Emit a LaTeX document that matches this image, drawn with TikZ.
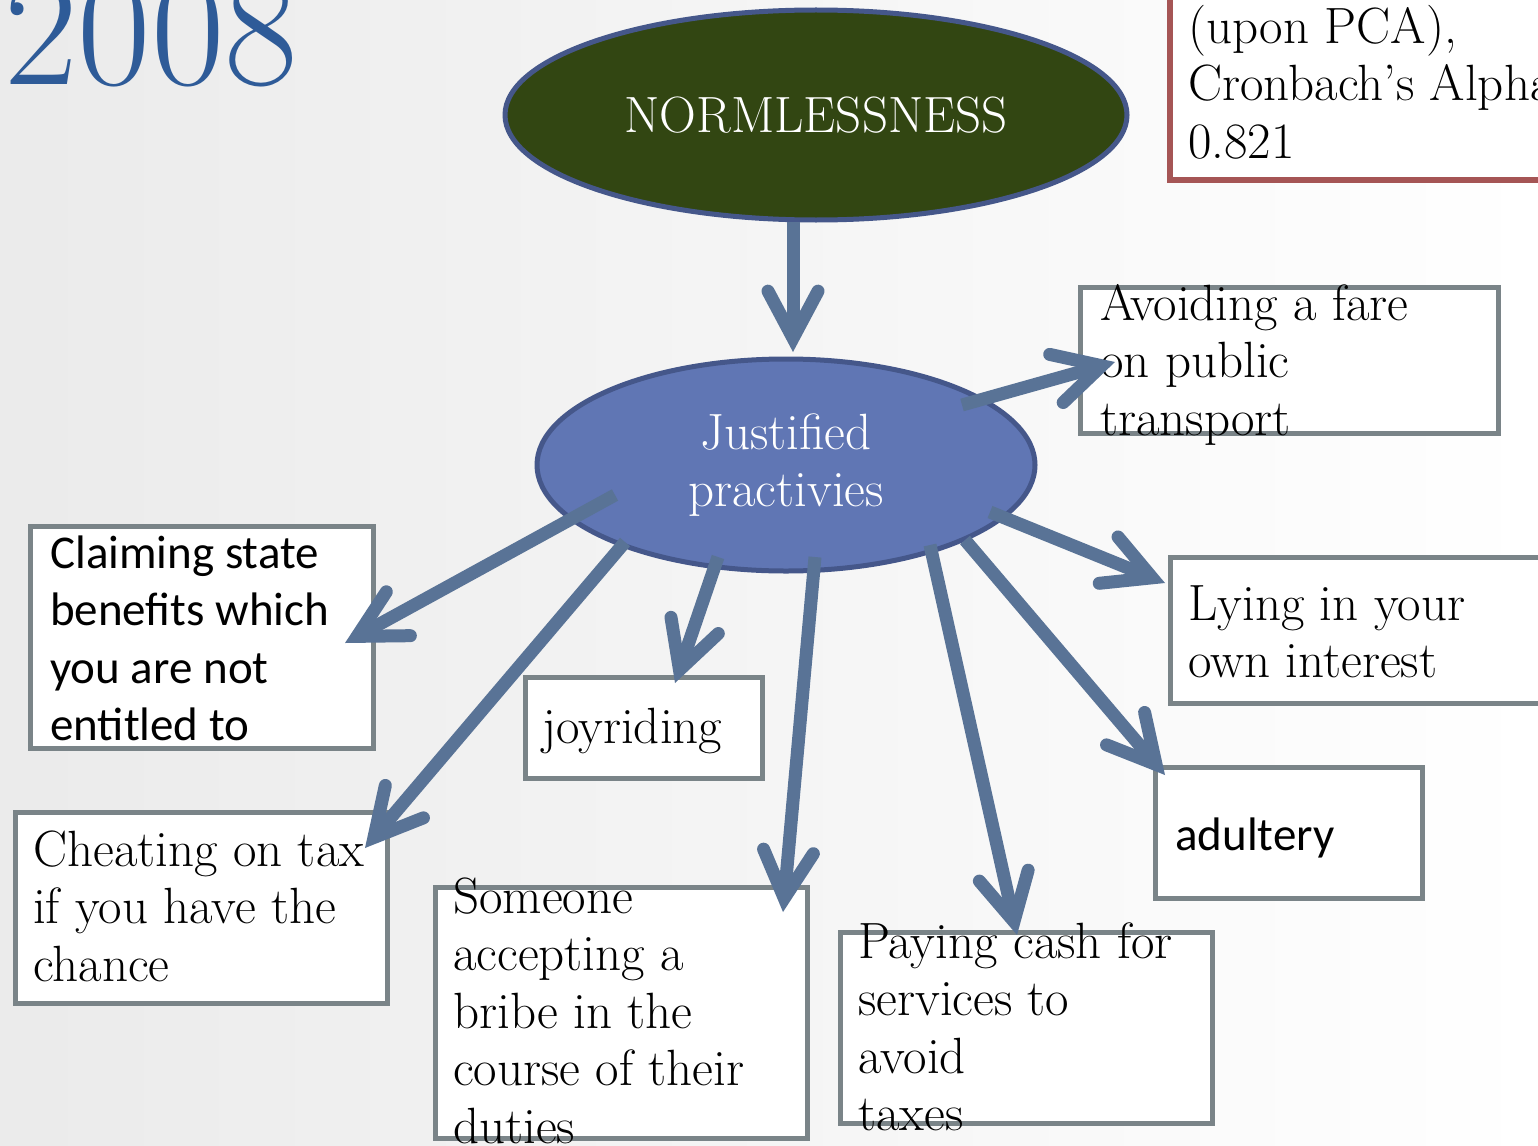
\documentclass[tikz,border=0pt]{standalone}
\usepackage{fontspec}
\newfontfamily\calfont{Carlito}
\usetikzlibrary{shapes.geometric,arrows.meta}

\definecolor{yearblue}{RGB}{46,91,152}
\definecolor{rimblue}{RGB}{69,87,138}
\definecolor{normgreen}{RGB}{50,70,18}
\definecolor{justblue}{RGB}{96,118,180}
\definecolor{arrowblue}{RGB}{89,115,150}
\definecolor{boxgray}{RGB}{122,132,136}
\definecolor{pcared}{RGB}{165,85,85}

\newcommand{\bigtext}{\fontsize{51}{57.5}\selectfont}
\newcommand{\bigsans}{\calfont\fontsize{47}{57.5}\selectfont}

\begin{document}
\begin{tikzpicture}[x=1pt,y=-1pt]
  \useasboundingbox (0,0) rectangle (1538,1145);
  \clip (0,0) rectangle (1538,1145);
  \shade[left color=black!8,right color=white] (0,0) rectangle (1538,1145);
  \node[anchor=base west,inner sep=0pt,text=yearblue,
    font=\fontsize{160}{160}\selectfont] (year) at (4,85) {2008};
  % boxes
  \begin{scope}[
    every node/.style={draw=boxgray,line width=5pt,fill=white,
      inner sep=0pt,outer sep=0pt,anchor=north west},
    ]
    \node[minimum width=420,minimum height=220,draw=pcared,line width=6pt]
      (pca) at (1170,-40) {};
    \node[minimum width=418,minimum height=146] (avoid) at (1080,287) {};
    \node[minimum width=343,minimum height=222] (claim) at (30,526) {};
    \node[minimum width=372,minimum height=191] (cheat) at (15,812) {};
    \node[minimum width=237,minimum height=101] (joy) at (525,677) {};
    \node[minimum width=372,minimum height=251] (bribe) at (435,887) {};
    \node[minimum width=372,minimum height=191] (cash) at (840,932) {};
    \node[minimum width=267,minimum height=131] (adult) at (1155,767) {};
    \node[minimum width=420,minimum height=146] (lying) at (1170,557) {};
  \end{scope}
  % box texts
  \begin{scope}[
    every node/.style={anchor=north west,inner sep=0pt,align=left,font=\bigtext},
    ]
    \node (pcatext) at ([shift={(18,42.75)}]pca.north west)
      {\strut(upon PCA),\\Cronbach’s Alpha\\0.821};
    \node (avoidtext) at ([shift={(20,-7.25)}]avoid.north west)
      {\strut Avoiding a fare\\on public\\transport};
    \node[font=\bigsans] (claimtext) at ([shift={(20,1.75)}]claim.north west)
      {\strut Claiming state\\benefits which\\you are not\\entitled to};
    \node (cheattext) at ([shift={(18,13.75)}]cheat.north west)
      {\strut Cheating on tax\\if you have the\\chance};
    \node (joytext) at ([shift={(17,25.75)}]joy.north west) {\strut joyriding};
    \node (bribetext) at ([shift={(18,-14.25)}]bribe.north west)
      {\strut Someone\\accepting a\\bribe in the\\course of their\\duties};
    \node (cashtext) at ([shift={(18,-14.25)}]cash.north west)
      {\strut Paying cash for\\services to\\avoid\\taxes};
    \node[font=\bigsans] (adulttext) at ([shift={(20,42.75)}]adult.north west)
      {\strut adultery};
    \node (lyingtext) at ([shift={(18,22.75)}]lying.north west)
      {\strut Lying in your\\own interest};
  \end{scope}
  % ellipses
  \begin{scope}[
    every node/.style={ellipse,draw=rimblue,line width=5pt,text=white,
      inner sep=0pt,outer sep=0pt,align=center,font=\bigtext},
    ]
    \node[fill=normgreen,minimum width=622,minimum height=210]
      (norm) at (816,115) {NORMLESSNESS};
    \node[fill=justblue,minimum width=498,minimum height=212]
      (just) at (786,465) {Justified\\practivies};
  \end{scope}
  % arrows
  \begin{scope}[
    every path/.style={draw=arrowblue,line width=13pt,
      -{Straight Barb[length=47pt,width=50pt,line cap=round]}},
    ]
    \path ([shift={(-23,2)}]norm.south) -- ([shift={(7,-7)}]just.north);
    \path ([shift={(176,-60)}]just.center) -- ([shift={(35,75)}]avoid.north west);
    \path ([shift={(-171,30)}]just.center) -- ([shift={(-28,117)}]claim.north east);
    \path ([shift={(-161,77)}]just.center) -- ([shift={(-22,36)}]cheat.north east);
    \path ([shift={(-68,92)}]just.center) -- ([shift={(150,6)}]joy.north west);
    \path ([shift={(29,92)}]just.center) -- ([shift={(-24,25)}]bribe.north east);
    \path ([shift={(144,80)}]just.center) -- ([shift={(177,3)}]cash.north west);
    \path ([shift={(179,75)}]just.center) -- ([shift={(10,8)}]adult.north west);
    \path ([shift={(204,47)}]just.center) -- ([shift={(-5,26)}]lying.north west);
  \end{scope}
\end{tikzpicture}
\end{document}
